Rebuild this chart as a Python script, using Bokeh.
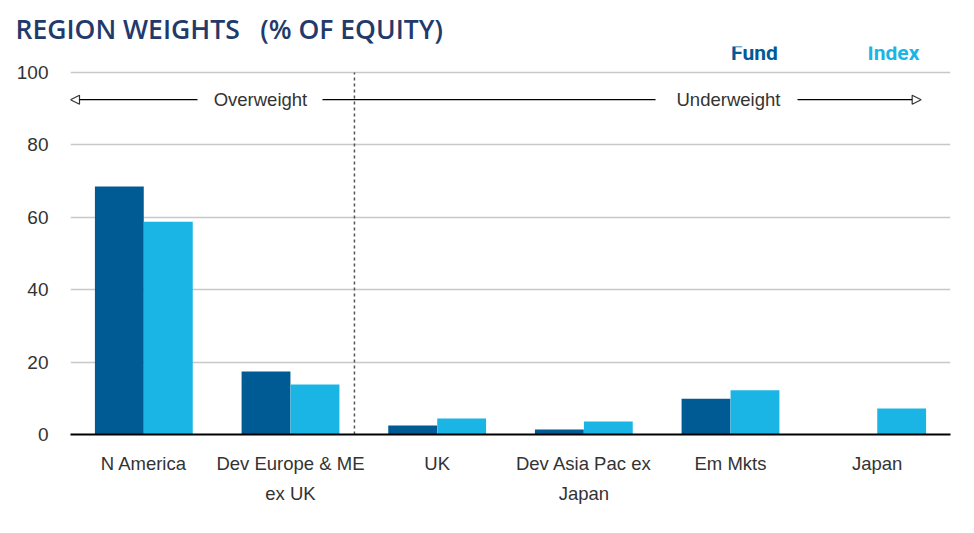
from bokeh.plotting import figure
from bokeh.models import ColumnDataSource, FactorRange, Range1d, FixedTicker, Label, Arrow, NormalHead
from bokeh.transform import dodge
from bokeh.embed import file_html
from bokeh.resources import INLINE

categories = ["N America", "Dev Europe & ME\nex UK", "UK", "Dev Asia Pac ex\nJapan", "Em Mkts", "Japan"]
fund = [68.5, 17.4, 2.5, 1.4, 9.9, 0.0]
index = [58.8, 13.8, 4.4, 3.6, 12.2, 7.2]
y_ticks = [0, 20, 40, 60, 80, 100]

FUND_C = "#005a94"
INDEX_C = "#1bb5e5"
TXT = "#333333"
NARROW = "Liberation Sans Narrow, Arial Narrow, Liberation Sans, sans-serif"

src = ColumnDataSource(dict(cat=categories, fund=fund, index=index))

p = figure(x_range=FactorRange(*categories, range_padding=0), y_range=Range1d(0, 107.2),
           width=958, height=517, output_backend="svg", toolbar_location=None,
           title="REGION WEIGHTS\u00a0\u00a0\u00a0(% OF EQUITY)",
           min_border_left=70, min_border_right=8, min_border_top=46, min_border_bottom=83)

p.title.text_font = "Open Sans SemiBold, Open Sans"
p.title.text_font_size = "26.5px"
p.title.text_font_style = "normal"
p.title.text_color = "#1f3a6b"
p.title.align = "left"
p.title.offset = -55
p.title.standoff = 0

p.vbar(x=dodge("cat", -0.167, range=p.x_range), top="fund", width=0.333, source=src,
       fill_color=FUND_C, line_color=None)
p.vbar(x=dodge("cat", 0.167, range=p.x_range), top="index", width=0.333, source=src,
       fill_color=INDEX_C, line_color=None)

p.outline_line_color = None
p.xgrid.grid_line_color = None
p.ygrid.grid_line_color = "#c8c8c8"
p.ygrid.grid_line_width = 1.5
p.yaxis.ticker = FixedTicker(ticks=y_ticks)
p.yaxis.axis_line_color = None
p.yaxis.major_tick_line_color = None
p.yaxis.minor_tick_line_color = None
p.yaxis.major_label_standoff = 16
p.yaxis.major_label_text_font = NARROW
p.yaxis.major_label_text_font_size = "19px"
p.yaxis.major_label_text_color = TXT

p.xaxis.axis_line_color = "black"
p.xaxis.axis_line_width = 2
p.xaxis.major_tick_line_color = None
p.xaxis.minor_tick_line_color = None
p.xaxis.major_label_standoff = 12
p.xaxis.major_label_text_font = NARROW
p.xaxis.major_label_text_font_size = "18.5px"
p.xaxis.major_label_text_color = TXT
p.xaxis.major_label_text_line_height = 1.45

# dashed divider
p.segment(x0=[1.936], y0=[0], x1=[1.936], y1=[100], line_color="#555555",
          line_width=1.5, line_dash="3 3")

# over/underweight arrows
p.segment(x0=[1.718], y0=[92.5], x1=[3.989], y1=[92.5], line_color="black", line_width=1.3)
p.add_layout(Arrow(x_start=0.866, y_start=92.5, x_end=0.0, y_end=92.5,
                   line_color="black", line_width=1.3,
                   end=NormalHead(size=9, fill_color="white", line_color="#333333", line_width=1.2)))
p.add_layout(Arrow(x_start=4.957, y_start=92.5, x_end=5.80, y_end=92.5,
                   line_color="black", line_width=1.3,
                   end=NormalHead(size=9, fill_color="white", line_color="#333333", line_width=1.2)))
p.add_layout(Label(x=1.295, y=92.5, text="Overweight", text_align="center", text_baseline="middle",
                   text_font=NARROW, text_font_size="18.5px", text_color=TXT))
p.add_layout(Label(x=4.486, y=92.5, text="Underweight", text_align="center", text_baseline="middle",
                   text_font=NARROW, text_font_size="18.5px", text_color=TXT))

# legend texts
p.add_layout(Label(x=4.663, y=105.3, text="Fund", text_align="center", text_baseline="middle",
                   text_font="Roboto", text_font_style="bold", text_font_size="21px", text_color=FUND_C))
p.add_layout(Label(x=5.611, y=105.3, text="Index", text_align="center", text_baseline="middle",
                   text_font="Roboto", text_font_style="bold", text_font_size="21px", text_color=INDEX_C))

open("out.html", "w").write(file_html(p, INLINE))
